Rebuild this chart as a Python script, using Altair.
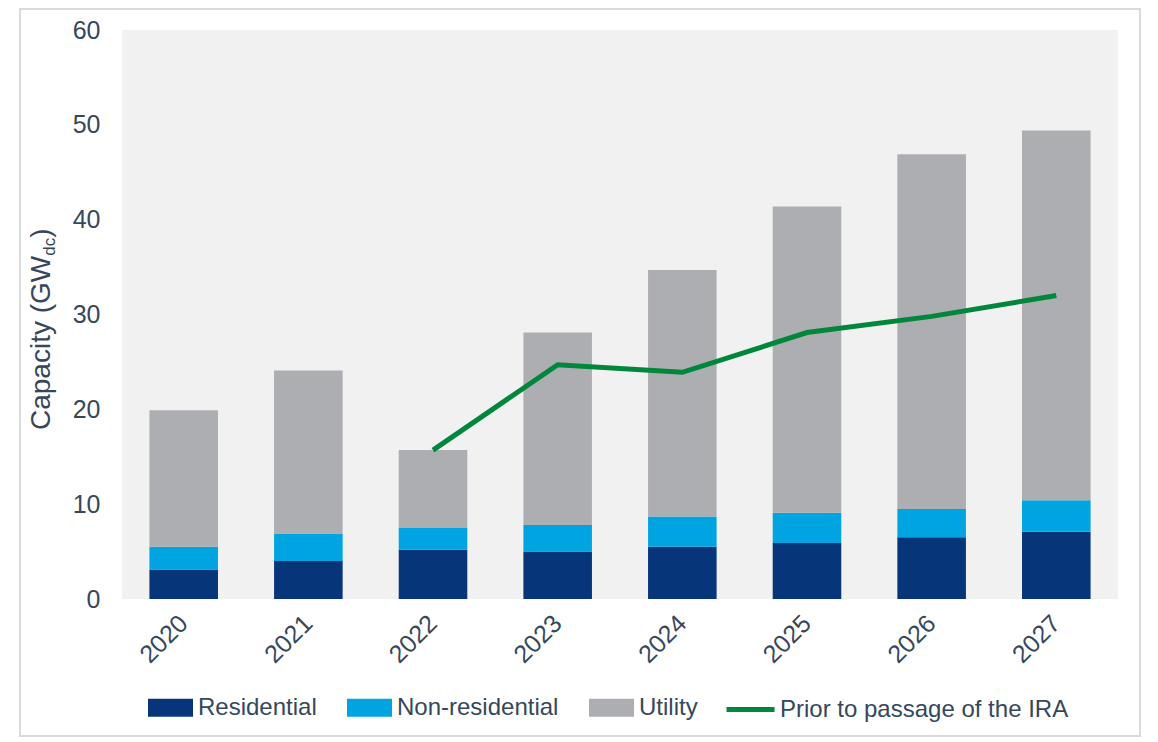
import altair as alt
import pandas as pd

years = ["2020", "2021", "2022", "2023", "2024", "2025", "2026", "2027"]
residential = [3.1, 4.0, 5.2, 5.0, 5.5, 5.9, 6.5, 7.1]
non_residential = [2.4, 2.9, 2.3, 2.8, 3.2, 3.2, 3.0, 3.3]
utility = [14.4, 17.2, 8.2, 20.3, 26.0, 32.3, 37.4, 39.0]

ira_years = ["2022", "2023", "2024", "2025", "2026", "2027"]
ira_values = [15.7, 24.7, 23.9, 28.1, 29.8, 32.0]

series_names = ["Residential", "Non-residential", "Utility"]
series_colors = ["#06357A", "#00A4E0", "#ADAEB2"]
line_name = "Prior to passage of the IRA"
line_color = "#00873C"
text_color = "#36475C"
FONT = "Liberation Sans"

rows = []
for i, y in enumerate(years):
    for k, (name, vals) in enumerate(zip(series_names, [residential, non_residential, utility])):
        rows.append({"year": y, "series": name, "value": vals[i], "ord": k})
bars_df = pd.DataFrame(rows)
line_df = pd.DataFrame({"year": ira_years, "value": ira_values, "series": [line_name] * len(ira_years)})
one = pd.DataFrame({"a": [0]})

x_enc = alt.X(
    "year:N",
    sort=years,
    scale=alt.Scale(paddingInner=0.45, paddingOuter=0.22),
    axis=alt.Axis(
        title=None, labelAngle=315, labelAlign="right", labelBaseline="middle",
        labelPadding=20, ticks=False, tickSize=0, domain=False,
        labelFontSize=25, labelColor=text_color, labelFont=FONT,
    ),
)
y_enc_axis = alt.Axis(
    title=None, values=[0, 10, 20, 30, 40, 50, 60], grid=False, domain=False,
    ticks=False, tickSize=0, labelPadding=22, labelFontSize=25,
    labelColor=text_color, labelFont=FONT,
)

rect_path = "M-1,-0.4L1,-0.4L1,0.4L-1,0.4Z"

bars = alt.Chart(bars_df).mark_bar().encode(
    x=x_enc,
    y=alt.Y("value:Q", stack="zero", scale=alt.Scale(domain=[0, 60], nice=False), axis=y_enc_axis),
    color=alt.Color(
        "series:N",
        scale=alt.Scale(domain=series_names, range=series_colors),
        legend=alt.Legend(
            orient="none", legendX=26, legendY=655, direction="horizontal", title=None,
            symbolType=rect_path, symbolSize=2025, symbolStrokeWidth=0,
            labelFontSize=24, labelFont=FONT, labelColor=text_color,
            columnPadding=30, labelOffset=5, labelLimit=400,
        ),
    ),
    order=alt.Order("ord:Q", sort="ascending"),
)

line = alt.Chart(line_df).mark_line(strokeWidth=5).encode(
    x=alt.X("year:N", sort=years),
    y=alt.Y("value:Q"),
    stroke=alt.Stroke(
        "series:N",
        scale=alt.Scale(domain=[line_name], range=[line_color]),
        legend=alt.Legend(
            orient="none", legendX=602, legendY=653, direction="horizontal", title=None,
            symbolType="stroke", symbolSize=2304, symbolStrokeWidth=5,
            labelFontSize=24, labelFont=FONT, labelColor=text_color,
            labelOffset=3, labelLimit=500,
        ),
    ),
)

frame = alt.Chart(one).mark_rect(fillOpacity=0, stroke="#DADADA", strokeWidth=2).encode(
    x=alt.value(-102), x2=alt.value(1018), y=alt.value(-21), y2=alt.value(706)
)

title_main = alt.Chart(one).mark_text(
    angle=270, align="left", baseline="alphabetic", fontSize=28, font=FONT, color=text_color
).encode(x=alt.value(-72.5), y=alt.value(400), text=alt.value("Capacity (GW"))
title_sub = alt.Chart(one).mark_text(
    angle=270, align="left", baseline="alphabetic", fontSize=17, font=FONT, color=text_color
).encode(x=alt.value(-67), y=alt.value(225.8), text=alt.value("dc"))
title_end = alt.Chart(one).mark_text(
    angle=270, align="left", baseline="alphabetic", fontSize=28, font=FONT, color=text_color
).encode(x=alt.value(-72.5), y=alt.value(207.8), text=alt.value(")"))

chart = alt.layer(frame, bars, line, title_main, title_sub, title_end).resolve_scale(
    color="independent", stroke="independent"
).properties(
    width=996, height=569, padding={"left": 11, "top": 0, "right": 0, "bottom": 0}
).configure_view(
    fill="#F1F1F1", stroke=None
)

chart.save("out.html", embed_options={"renderer": "svg", "actions": False})
